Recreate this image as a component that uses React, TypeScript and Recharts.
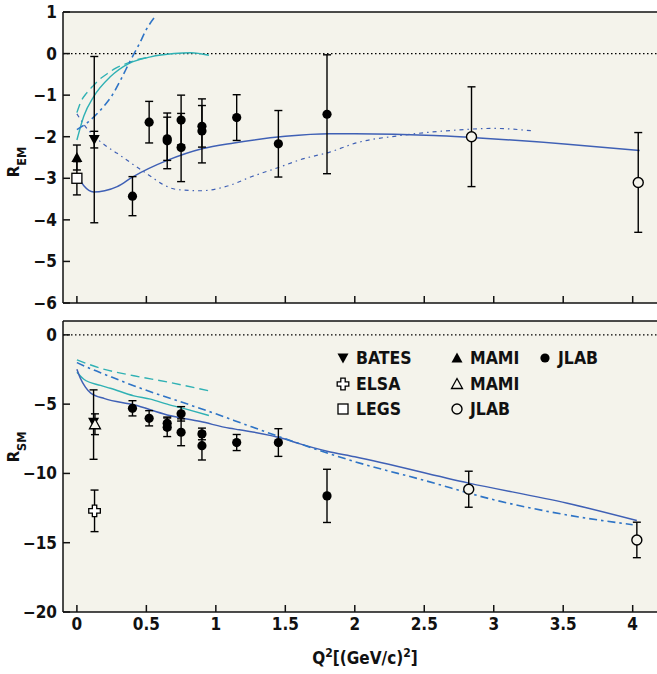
import React from 'react';
import {
  ComposedChart,
  Line,
  Scatter,
  XAxis,
  YAxis,
  CartesianGrid,
  ReferenceLine,
  ErrorBar,
  Customized,
} from 'recharts';

const FONT = "'DejaVu Sans Condensed', 'DejaVu Sans', sans-serif";
const BG = '#f4f3eb';
const INK = '#111';
const MAID_BLUE = '#3f60b5';
const DMT_BLUE = '#2e74c6';
const CYAN = '#2fb1b4';

const xTicks = [0, 0.5, 1, 1.5, 2, 2.5, 3, 3.5, 4];
const remTicks = [-6, -5, -4, -3, -2, -1, 0, 1];
const rsmTicks = [-20, -15, -10, -5, 0];

// ---- R_EM (top panel) data points ----
const remMami = [{ x: 0, y: -2.5, e: 0.3 }];
const remLegs = [{ x: 0, y: -3.0, e: 0.4 }];
const remBates = [{ x: 0.125, y: -2.07, e: 2.0, e2: 0.2 }];
const remJlabFilled = [
  { x: 0.4, y: -3.43, e: 0.47 },
  { x: 0.52, y: -1.65, e: 0.5 },
  { x: 0.65, y: -2.05, e: 0.52 },
  { x: 0.65, y: -2.1, e: 0.67 },
  { x: 0.75, y: -1.6, e: 0.6 },
  { x: 0.75, y: -2.26, e: 0.82 },
  { x: 0.9, y: -1.75, e: 0.5 },
  { x: 0.9, y: -1.86, e: 0.77 },
  { x: 1.15, y: -1.54, e: 0.55 },
  { x: 1.45, y: -2.17, e: 0.8 },
  { x: 1.8, y: -1.46, e: 1.43 },
];
const remJlabOpen = [
  { x: 2.84, y: -2.0, e: 1.2 },
  { x: 4.04, y: -3.1, e: 1.2 },
];

// ---- R_EM model curves ----
const remMaid = [
  [0, -2.92], [0.05, -3.18], [0.12, -3.33], [0.2, -3.3], [0.29, -3.2],
  [0.4, -2.97], [0.65, -2.57], [0.9, -2.29], [1.13, -2.15], [1.5, -1.99],
  [1.82, -1.93], [2.0, -1.93], [2.57, -1.97], [2.84, -2.02], [3.53, -2.18], [4.05, -2.33],
];
const remDmt = [
  [0, -1.83], [0.08, -1.65], [0.18, -1.32], [0.26, -0.97], [0.32, -0.6],
  [0.38, -0.2], [0.45, 0.24], [0.5, 0.58], [0.57, 0.92],
];
const remCyanSolid = [
  [0, -2.08], [0.05, -1.5], [0.12, -1.04], [0.24, -0.56], [0.38, -0.23],
  [0.53, -0.08], [0.7, 0.0], [0.82, 0.02], [0.95, -0.04],
];
const remCyanDashed = [
  [0, -1.42], [0.03, -1.15], [0.07, -0.95], [0.11, -0.8], [0.16, -0.63],
  [0.22, -0.48], [0.28, -0.35], [0.35, -0.25], [0.43, -0.15], [0.5, -0.1],
];
const remDotted = [
  [0, -1.45], [0.06, -1.75], [0.12, -1.97], [0.2, -2.2], [0.29, -2.4],
  [0.41, -2.68], [0.53, -2.95], [0.62, -3.15], [0.72, -3.27], [0.89, -3.3],
  [1.1, -3.17], [1.25, -2.97], [1.46, -2.73], [1.61, -2.55], [1.82, -2.37],
  [2.01, -2.15], [2.33, -1.97], [2.69, -1.85], [3.0, -1.8], [3.28, -1.86],
];

// ---- R_SM (bottom panel) data points ----
const rsmBates = [{ x: 0.12, y: -6.3, e: [2.68, 2.33] }];
const rsmMamiOpen = [{ x: 0.13, y: -6.45, e: 0.75 }];
const rsmElsa = [{ x: 0.127, y: -12.7, e: 1.5 }];
const rsmJlabFilled = [
  { x: 0.4, y: -5.3, e: 0.55 },
  { x: 0.52, y: -6.02, e: 0.55 },
  { x: 0.65, y: -6.38, e: 0.45 },
  { x: 0.65, y: -6.67, e: 0.67 },
  { x: 0.75, y: -5.7, e: 0.52 },
  { x: 0.75, y: -7.03, e: 0.97 },
  { x: 0.9, y: -7.15, e: 0.42 },
  { x: 0.9, y: -8.0, e: 1.03 },
  { x: 1.15, y: -7.77, e: 0.58 },
  { x: 1.45, y: -7.77, e: 1.0 },
  { x: 1.8, y: -11.62, e: 1.92 },
];
const rsmJlabOpen = [
  { x: 2.82, y: -11.14, e: 1.3 },
  { x: 4.03, y: -14.8, e: 1.28 },
];

// ---- R_SM model curves ----
const rsmMaid = [
  [0, -2.48], [0.025, -3.13], [0.06, -3.75], [0.1, -4.2], [0.2, -4.6],
  [0.41, -5.05], [0.65, -5.78], [0.89, -6.26], [1.1, -6.74], [1.17, -6.85],
  [1.49, -7.5], [1.6, -7.85], [1.8, -8.4], [2.0, -8.8], [2.82, -10.7],
  [3.53, -12.15], [4.03, -13.4],
];
const rsmDmt = [
  [0, -2.0], [0.09, -2.41], [0.21, -2.89], [0.33, -3.37], [0.5, -4.0],
  [0.72, -4.74], [1.0, -5.7], [1.22, -6.5], [1.5, -7.5], [2.0, -9.15],
  [2.5, -10.5], [3.0, -11.9], [3.5, -12.95], [4.0, -13.7],
];
const rsmCyanSolid = [
  [0, -2.7], [0.05, -3.2], [0.17, -3.65], [0.24, -3.85], [0.41, -4.4],
  [0.53, -4.64], [0.65, -5.0], [0.8, -5.4], [0.95, -5.82],
];
const rsmCyanDashed = [
  [0, -1.8], [0.17, -2.41], [0.41, -2.95], [0.65, -3.4], [0.95, -4.04],
];

const legendItems = [
  { label: 'BATES', shape: 'triDown', col: 0, row: 0 },
  { label: 'MAMI', shape: 'triUp', col: 1, row: 0 },
  { label: 'JLAB', shape: 'dot', col: 2, row: 0 },
  { label: 'ELSA', shape: 'cross', col: 0, row: 1 },
  { label: 'MAMI', shape: 'openTri', col: 1, row: 1 },
  { label: 'LEGS', shape: 'square', col: 0, row: 2 },
  { label: 'JLAB', shape: 'openDot', col: 1, row: 2 },
];

const pts = (a: number[][]) => a.map(([x, y]) => ({ x, y }));
const fmt = (v: number) => String(v).replace('-', '\u2212');

// marker shapes
const drawMarker = (shape: string, cx: number, cy: number) => {
  switch (shape) {
    case 'dot':
      return <circle cx={cx} cy={cy} r={4.6} fill="#000" />;
    case 'openDot':
      return <circle cx={cx} cy={cy} r={5} fill={BG} stroke="#000" strokeWidth={1.4} />;
    case 'triDown':
      return (
        <polygon
          points={`${cx - 5.5},${cy - 4.5} ${cx + 5.5},${cy - 4.5} ${cx},${cy + 5.5}`}
          fill="#000"
        />
      );
    case 'triUp':
      return (
        <polygon
          points={`${cx - 5.5},${cy + 4.5} ${cx + 5.5},${cy + 4.5} ${cx},${cy - 5.5}`}
          fill="#000"
        />
      );
    case 'openTri':
      return (
        <polygon
          points={`${cx - 5.5},${cy + 4.5} ${cx + 5.5},${cy + 4.5} ${cx},${cy - 5.5}`}
          fill={BG}
          stroke="#000"
          strokeWidth={1.3}
        />
      );
    case 'square':
      return (
        <rect x={cx - 5} y={cy - 5} width={10} height={10} fill="#fff" stroke="#000" strokeWidth={1.3} />
      );
    case 'cross': {
      const a = 2.2;
      const l = 5.8;
      const p = [
        [-a, -l], [a, -l], [a, -a], [l, -a], [l, a], [a, a],
        [a, l], [-a, l], [-a, a], [-l, a], [-l, -a], [-a, -a],
      ]
        .map(([dx, dy]) => `${cx + dx},${cy + dy}`)
        .join(' ');
      return <polygon points={p} fill="#fff" stroke="#000" strokeWidth={1.3} />;
    }
    default:
      return null;
  }
};

const shapeOf = (shape: string) => (p: any) => drawMarker(shape, p.cx, p.cy);

const errProps = { direction: 'y' as const, width: 4, stroke: '#000', strokeWidth: 1.4 };

const axisLine = { stroke: INK, strokeWidth: 1.5 };
const tickStyle = { fill: INK, fontSize: 17, fontFamily: FONT, fontWeight: 'bold' };

const YLabel = ({ sub, cy }: { sub: string; cy: number }) => (
  <text
    transform={`translate(19,${cy}) rotate(-90)`}
    textAnchor="middle"
    fontFamily={FONT}
    fontWeight="bold"
    fill={INK}
  >
    <tspan fontSize={16.5}>R</tspan>
    <tspan fontSize={12.5} dy={7}>{sub}</tspan>
  </text>
);

const XLabel = () => (
  <text x={365} y={354} textAnchor="middle" fontFamily={FONT} fontWeight="bold" fontSize={17} fill={INK}>
    Q<tspan fontSize={12} dy={-7}>2</tspan>
    <tspan dy={7}>[(GeV/c)</tspan>
    <tspan fontSize={12} dy={-7}>2</tspan>
    <tspan dy={7}>]</tspan>
  </text>
);

const colX = [343, 457, 545];
const rowY = [48, 74, 99];

const LegendBlock = () => (
  <g>
    {legendItems.map((it, i) => (
      <g key={i}>
        {drawMarker(it.shape, colX[it.col], rowY[it.row])}
        <text
          x={colX[it.col] + 13}
          y={rowY[it.row] + 6.4}
          fontFamily={FONT}
          fontWeight="bold"
          fontSize={17.5}
          fill={INK}
        >
          {it.label}
        </text>
      </g>
    ))}
  </g>
);

export default function App() {
  return (
    <div style={{ position: 'absolute', left: 0, top: 0, width: 657, height: 674, background: '#fff' }}>
      <div style={{ position: 'absolute', left: 0, top: 0 }}>
        <ComposedChart width={657} height={320} margin={{ top: 12, right: 0, bottom: 0, left: 0 }}>
          <CartesianGrid horizontal={false} vertical={false} fill={BG} />
          <XAxis
            type="number"
            dataKey="x"
            domain={[-0.1, 4.175]}
            ticks={xTicks}
            interval={0}
            height={17}
            tickSize={-7}
            tickFormatter={() => ''}
            axisLine={axisLine}
            tickLine={axisLine}
            allowDataOverflow
          />
          <YAxis
            type="number"
            dataKey="y"
            domain={[-6, 1]}
            ticks={remTicks}
            interval={0}
            width={63}
            tickSize={-7}
            tickMargin={13}
            tick={tickStyle}
            tickFormatter={fmt}
            axisLine={axisLine}
            tickLine={axisLine}
            allowDataOverflow
          />
          <ReferenceLine y={1} stroke={INK} strokeWidth={1.5} />
          <ReferenceLine y={0} stroke="#000" strokeWidth={1.3} strokeDasharray="1.5 2.5" />

          <Line data={pts(remDotted)} dataKey="y" type="monotone" dot={false} stroke={MAID_BLUE} strokeWidth={1.2} strokeDasharray="4 4 1.5 4" isAnimationActive={false} />
          <Line data={pts(remMaid)} dataKey="y" type="monotone" dot={false} stroke={MAID_BLUE} strokeWidth={1.5} isAnimationActive={false} />
          <Line data={pts(remCyanDashed)} dataKey="y" type="monotone" dot={false} stroke={CYAN} strokeWidth={1.4} strokeDasharray="9 5" isAnimationActive={false} />
          <Line data={pts(remCyanSolid)} dataKey="y" type="monotone" dot={false} stroke={CYAN} strokeWidth={1.4} isAnimationActive={false} />
          <Line data={pts(remDmt)} dataKey="y" type="monotone" dot={false} stroke={DMT_BLUE} strokeWidth={1.6} strokeDasharray="8 4 2.5 4" isAnimationActive={false} />

          <Scatter data={remMami} dataKey="y" shape={shapeOf('triUp')} isAnimationActive={false}>
            <ErrorBar dataKey="e" {...errProps} />
          </Scatter>
          <Scatter data={remLegs} dataKey="y" shape={shapeOf('square')} isAnimationActive={false}>
            <ErrorBar dataKey="e" {...errProps} />
          </Scatter>
          <Scatter data={remBates} dataKey="y" shape={shapeOf('triDown')} isAnimationActive={false}>
            <ErrorBar dataKey="e" {...errProps} />
            <ErrorBar dataKey="e2" {...errProps} />
          </Scatter>
          <Scatter data={remJlabFilled} dataKey="y" shape={shapeOf('dot')} isAnimationActive={false}>
            <ErrorBar dataKey="e" {...errProps} />
          </Scatter>
          <Scatter data={remJlabOpen} dataKey="y" shape={shapeOf('openDot')} isAnimationActive={false}>
            <ErrorBar dataKey="e" {...errProps} />
          </Scatter>
          <Customized component={<YLabel sub="EM" cy={162} />} />
        </ComposedChart>
      </div>

      <div style={{ position: 'absolute', left: 0, top: 310 }}>
        <ComposedChart width={657} height={364} margin={{ top: 11, right: 0, bottom: 0, left: 0 }}>
          <CartesianGrid horizontal={false} vertical={false} fill={BG} />
          <XAxis
            type="number"
            dataKey="x"
            domain={[-0.1, 4.175]}
            ticks={xTicks}
            interval={0}
            height={62}
            tickSize={-7}
            tickMargin={13}
            tick={tickStyle}
            axisLine={axisLine}
            tickLine={axisLine}
            allowDataOverflow
          />
          <YAxis
            type="number"
            dataKey="y"
            domain={[-20, 1]}
            ticks={rsmTicks}
            interval={0}
            width={63}
            tickSize={-7}
            tickMargin={13}
            tick={tickStyle}
            tickFormatter={fmt}
            axisLine={axisLine}
            tickLine={axisLine}
            allowDataOverflow
          />
          <ReferenceLine y={1} stroke={INK} strokeWidth={1.5} />
          <ReferenceLine y={0} stroke="#000" strokeWidth={1.3} strokeDasharray="1.5 2.5" />

          <Line data={pts(rsmCyanDashed)} dataKey="y" type="monotone" dot={false} stroke={CYAN} strokeWidth={1.4} strokeDasharray="9 5" isAnimationActive={false} />
          <Line data={pts(rsmCyanSolid)} dataKey="y" type="monotone" dot={false} stroke={CYAN} strokeWidth={1.4} isAnimationActive={false} />
          <Line data={pts(rsmMaid)} dataKey="y" type="monotone" dot={false} stroke={MAID_BLUE} strokeWidth={1.5} isAnimationActive={false} />
          <Line data={pts(rsmDmt)} dataKey="y" type="monotone" dot={false} stroke={DMT_BLUE} strokeWidth={1.6} strokeDasharray="8 4 2.5 4" isAnimationActive={false} />

          <Scatter data={rsmBates} dataKey="y" shape={shapeOf('triDown')} isAnimationActive={false}>
            <ErrorBar dataKey="e" {...errProps} />
          </Scatter>
          <Scatter data={rsmMamiOpen} dataKey="y" shape={shapeOf('openTri')} isAnimationActive={false}>
            <ErrorBar dataKey="e" {...errProps} />
          </Scatter>
          <Scatter data={rsmElsa} dataKey="y" shape={shapeOf('cross')} isAnimationActive={false}>
            <ErrorBar dataKey="e" {...errProps} />
          </Scatter>
          <Scatter data={rsmJlabFilled} dataKey="y" shape={shapeOf('dot')} isAnimationActive={false}>
            <ErrorBar dataKey="e" {...errProps} />
          </Scatter>
          <Scatter data={rsmJlabOpen} dataKey="y" shape={shapeOf('openDot')} isAnimationActive={false}>
            <ErrorBar dataKey="e" {...errProps} />
          </Scatter>
          <Customized component={<YLabel sub="SM" cy={137} />} />
          <Customized component={<XLabel />} />
          <Customized component={<LegendBlock />} />
        </ComposedChart>
      </div>
    </div>
  );
}
